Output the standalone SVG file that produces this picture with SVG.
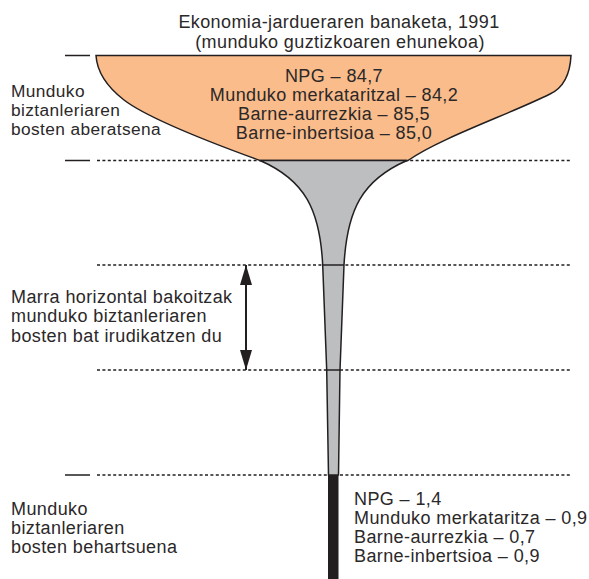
<svg xmlns="http://www.w3.org/2000/svg" width="589" height="579" viewBox="0 0 589 579">
<style>
text{font-family:"Liberation Sans",Arial,sans-serif;font-size:18px;letter-spacing:0.4px;fill:#2b2829}
.c{text-anchor:middle}
.s{font-size:17.3px}
.dot{stroke:#231f20;stroke-width:1.3;stroke-dasharray:3 2.4;fill:none}
.tick{stroke:#231f20;stroke-width:1.5;fill:none}
.edge{stroke:#231f20;stroke-width:1.5}
</style>
<defs>
<marker id="ah" viewBox="0 0 20 12" refX="20" refY="6" markerWidth="20" markerHeight="12" markerUnits="userSpaceOnUse" orient="auto-start-reverse">
<path d="M0,0 L20,6 L0,12 Z" fill="#231f20"/>
</marker>
</defs>
<rect width="589" height="579" fill="#fff"/>
<g id="guides">
<line class="dot" x1="97" y1="160.5" x2="572" y2="160.5"/>
<line class="dot" x1="97" y1="265" x2="572" y2="265"/>
<line class="dot" x1="97" y1="370" x2="572" y2="370"/>
<line class="dot" x1="97" y1="475" x2="572" y2="475"/>
<line class="tick" x1="65" y1="55.5" x2="90" y2="55.5"/>
<line class="tick" x1="65" y1="160.5" x2="90" y2="160.5"/>
<line class="tick" x1="65" y1="475" x2="90" y2="475"/>
</g>
<g id="title">
<text class="c" x="339" y="28">Ekonomia-jardueraren banaketa, 1991</text>
<text class="c" x="340" y="48">(munduko guztizkoaren ehunekoa)</text>
</g>
<g id="rich">
<path class="edge" fill="#f9bc8a" d="M96,55.5 H571 C570,76 563,88 550,94 C510,114 440,138 408,160.5 H260 C220,146 150,120 124,100 C106,86 97,72 96,55.5 Z"/>
<text class="c" x="334" y="82">NPG – 84,7</text>
<text class="c" x="334" y="101">Munduko merkataritzal – 84,2</text>
<text class="c" x="334" y="120">Barne-aurrezkia – 85,5</text>
<text class="c" x="334" y="139">Barne-inbertsioa – 85,0</text>
</g>
<g id="stem">
<path class="edge" fill="#bcbec0" d="M260,160.5 H407 C362,180 347,210 344,265 L340,370 L338.5,475 H328.5 L326.7,370 L322.7,265 C320,210 305,180 260,160.5 Z"/>
<line class="edge" x1="322.7" y1="265" x2="344" y2="265"/>
<line class="edge" x1="326.7" y1="370" x2="340" y2="370"/>
<rect x="328" y="475" width="10.5" height="104" fill="#231f20"/>
</g>
<g id="connectors">
<line stroke="#231f20" stroke-width="2" x1="246" y1="265" x2="246" y2="370" marker-start="url(#ah)" marker-end="url(#ah)"/>
</g>
<g id="label-rich">
<text class="s" x="11" y="97">Munduko</text>
<text class="s" x="11" y="116">biztanleriaren</text>
<text class="s" x="11" y="135">bosten aberatsena</text>
</g>
<g id="label-bar">
<text x="11" y="303">Marra horizontal bakoitzak</text>
<text x="11" y="322">munduko biztanleriaren</text>
<text x="11" y="341.5">bosten bat irudikatzen du</text>
</g>
<g id="label-poor">
<text x="11" y="515">Munduko</text>
<text x="11" y="534">biztanleriaren</text>
<text x="11" y="553">bosten behartsuena</text>
</g>
<g id="poor">
<text x="354" y="505">NPG – 1,4</text>
<text x="354" y="524">Munduko merkataritza – 0,9</text>
<text x="354" y="543">Barne-aurrezkia – 0,7</text>
<text x="354" y="562">Barne-inbertsioa – 0,9</text>
</g>
</svg>
